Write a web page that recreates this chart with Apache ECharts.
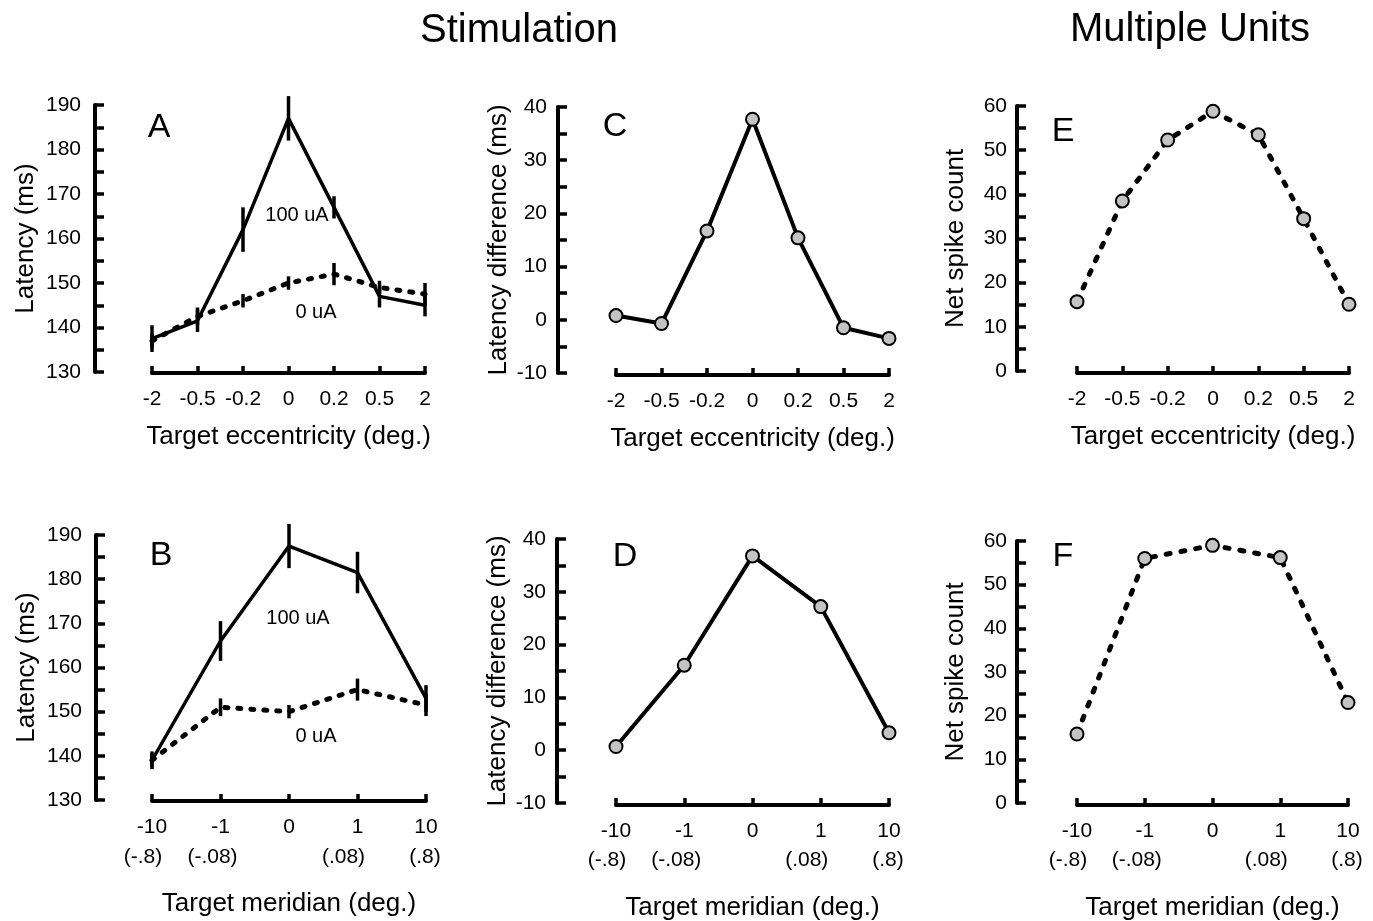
<!DOCTYPE html>
<html>
<head>
<meta charset="utf-8">
<title>Stimulation / Multiple Units</title>
<script src="https://cdn.jsdelivr.net/npm/echarts@6/dist/echarts.min.js"></script>
<style>
  html, body { margin: 0; padding: 0; background: #fff; }
  #chart { width: 1373px; height: 921px; }
</style>
</head>
<body>
<div id="chart"></div>
<script>
// categories
const eccCats = ['-2', '-0.5', '-0.2', '0', '0.2', '0.5', '2'];
const merCats = ['-10', '-1', '0', '1', '10'];
const merSub = ['(-.8)', '(-.08)', '', '(.08)', '(.8)'];

// A: latency vs eccentricity
const latA100 = [137.5, 141.5, 162, 187, 167, 147, 145];
const errA100 = [3, 2.5, 5, 5, 2.5, 2.5, 2.5];
const latA0 = [137, 142.5, 146, 150, 152, 149, 147.5];
const errA0 = [1.5, 2, 1.5, 1.5, 2.5, 1.5, 2.5];

// B: latency vs meridian
const latB100 = [139, 166, 187.5, 181.5, 153];
const errB100 = [2, 4.5, 5, 4.7, 3];
const latB0 = [139, 151, 150, 155, 151.5];
const errB0 = [1.5, 2, 1.5, 2.5, 2.5];

// C, D: latency difference
const diffC = [0.8, -0.7, 16.7, 37.7, 15.4, -1.5, -3.5];
const diffD = [0.7, 16.1, 36.8, 27.2, 3.3];

// E, F: net spike count
const spikeE = [15.7, 38.5, 52.3, 58.8, 53.5, 34.5, 15.1];
const spikeF = [15.8, 56, 59, 56.2, 23];

const FONT = '"Liberation Sans", Arial, Helvetica, sans-serif';
const TICK_FS = 21;
const NAME_FS = 26;

const chart = echarts.init(document.getElementById('chart'));

// pixel boxes for A, C, E, B, D, F (x-axis ends, y-axis ends, y-axis line x)
const boxes = [
  { l: 152, r: 425, t: 105, b: 372, yx: 95 },
  { l: 616, r: 889, t: 107, b: 373, yx: 558 },
  { l: 1077, r: 1349, t: 106, b: 371, yx: 1017 },
  { l: 152, r: 426, t: 535, b: 800, yx: 96 },
  { l: 616, r: 889, t: 539, b: 803, yx: 557 },
  { l: 1077, r: 1348, t: 541, b: 803, yx: 1017 }
];

const yDefs = [
  { min: 130, max: 190, name: 'Latency (ms)', gap: 56, margin: 14 },
  { min: -10, max: 40, name: 'Latency difference (ms)', gap: 46, margin: 11 },
  { min: 0, max: 60, name: 'Net spike count', gap: 48, margin: 10 }
];

const grid = boxes.map(b => ({
  left: b.l, top: b.t, width: b.r - b.l, height: b.b - b.t,
  outerBoundsMode: 'none', containLabel: false
}));

const yAxis = boxes.map((b, i) => {
  const d = yDefs[i % 3];
  return {
    type: 'value', gridIndex: i, min: d.min, max: d.max, interval: 5,
    offset: b.l - b.yx,
    name: d.name, nameLocation: 'middle', nameGap: d.gap,
    nameTextStyle: { fontFamily: FONT, fontSize: NAME_FS, color: '#000' },
    axisLine: { show: true, onZero: false, lineStyle: { color: '#000', width: 4 } },
    axisTick: { show: true, inside: true, length: 9, lineStyle: { color: '#000', width: 3.5 } },
    axisLabel: {
      margin: d.margin, fontFamily: FONT, fontSize: TICK_FS, color: '#000',
      formatter: v => (v % 10 === 0 ? String(v) : '')
    },
    splitLine: { show: false }
  };
});

const xAxis = boxes.map((b, i) => {
  const top = i < 3;
  return {
    type: 'category', gridIndex: i, position: 'bottom',
    data: top ? eccCats : merCats, boundaryGap: false,
    offset: i === 0 || i === 3 ? 1 : 2,
    name: top ? 'Target eccentricity (deg.)' : 'Target meridian (deg.)',
    nameLocation: 'middle', nameGap: top ? 51 : 90,
    nameTextStyle: { fontFamily: FONT, fontSize: NAME_FS, color: '#000' },
    axisLine: { show: true, onZero: false, lineStyle: { color: '#000', width: 4 } },
    axisTick: { show: true, inside: true, length: 7, lineStyle: { color: '#000', width: 3.5 } },
    axisLabel: { margin: 16, fontFamily: FONT, fontSize: TICK_FS, color: '#000', interval: 0 },
    splitLine: { show: false }
  };
});

// second row of tick labels on the meridian axes
const subShift = [18, 16, 0, 28, 2];
const subRich = {};
subShift.forEach((s, i) => {
  subRich['s' + i] = { fontFamily: FONT, fontSize: TICK_FS, color: '#000', padding: [0, s, 0, 0] };
});
[3, 4, 5].forEach(gi => {
  xAxis.push({
    type: 'category', gridIndex: gi, position: 'bottom',
    data: merCats, boundaryGap: false, offset: 2,
    axisLine: { show: false, onZero: false }, axisTick: { show: false }, splitLine: { show: false },
    axisLabel: {
      margin: 45, interval: 0, fontFamily: FONT, fontSize: TICK_FS, color: '#000',
      formatter: (v, idx) => (merSub[idx] ? '{s' + idx + '|' + merSub[idx] + '}' : ''),
      rich: subRich
    }
  });
});

function errData(mean, err) {
  return mean.map((m, i) => [i, m - err[i], m + err[i]]);
}

function errRender(params, api) {
  const hi = api.coord([api.value(0), api.value(2)]);
  const lo = api.coord([api.value(0), api.value(1)]);
  return {
    type: 'line',
    shape: { x1: hi[0], y1: hi[1], x2: lo[0], y2: lo[1] },
    style: { stroke: '#000', lineWidth: 3.5 }
  };
}

const solid = { color: '#000', width: 3.5, type: 'solid' };
const dashed = { color: '#000', width: 5, type: [3, 10], cap: 'round' };
const dot = { color: '#c4c4c4', borderColor: '#000', borderWidth: 2 };

function latencySeries(gi, s100, e100, s0, e0) {
  return [
    { type: 'line', xAxisIndex: gi, yAxisIndex: gi, data: s100, symbol: 'none', lineStyle: solid, silent: true },
    { type: 'line', xAxisIndex: gi, yAxisIndex: gi, data: s0, symbol: 'none', lineStyle: dashed, silent: true },
    { type: 'custom', xAxisIndex: gi, yAxisIndex: gi, data: errData(s100, e100), renderItem: errRender, z: 5, silent: true },
    { type: 'custom', xAxisIndex: gi, yAxisIndex: gi, data: errData(s0, e0), renderItem: errRender, z: 5, silent: true }
  ];
}

function pointSeries(gi, vals, ls) {
  return {
    type: 'line', xAxisIndex: gi, yAxisIndex: gi, data: vals,
    symbol: 'circle', symbolSize: 13, showAllSymbol: true,
    lineStyle: ls, itemStyle: dot, silent: true
  };
}

const series = [
  ...latencySeries(0, latA100, errA100, latA0, errA0),
  pointSeries(1, diffC, { color: '#000', width: 4 }),
  pointSeries(2, spikeE, { color: '#000', width: 5, type: [4, 11], cap: 'round' }),
  ...latencySeries(3, latB100, errB100, latB0, errB0),
  pointSeries(4, diffD, { color: '#000', width: 4 }),
  pointSeries(5, spikeF, { color: '#000', width: 5, type: [4, 11], cap: 'round' })
];

function label(text, x, y, size) {
  return {
    type: 'text', x: x, y: y, silent: true,
    style: {
      text: text, fontFamily: FONT, fontSize: size, fill: '#000',
      align: 'center', verticalAlign: 'middle', textAlign: 'center', textVerticalAlign: 'middle'
    }
  };
}

const graphic = [
  label('Stimulation', 519, 31, 40),
  label('Multiple Units', 1190, 30, 40),
  label('A', 159, 128, 34),
  label('C', 615, 127, 34),
  label('E', 1063, 132, 34),
  label('B', 161, 556, 34),
  label('D', 625, 557, 34),
  label('F', 1063, 557, 34),
  label('100 uA', 297, 215, 20),
  label('0 uA', 316, 312, 20),
  label('100 uA', 298, 618, 20),
  label('0 uA', 316, 736, 20)
];

chart.setOption({
  backgroundColor: '#fff',
  animation: false,
  textStyle: { fontFamily: FONT },
  grid,
  xAxis,
  yAxis,
  series,
  graphic
});
</script>
</body>
</html>
